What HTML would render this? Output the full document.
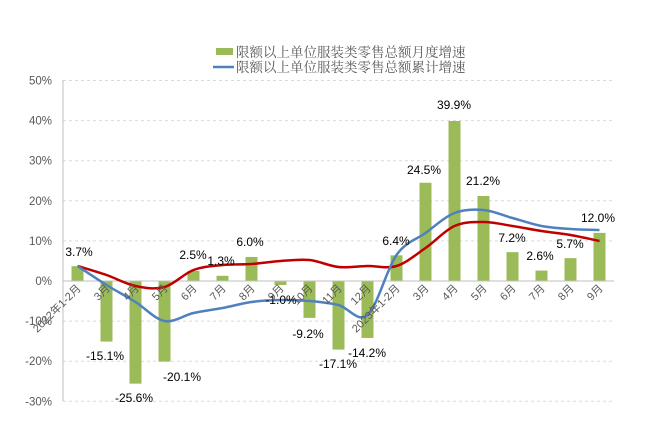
<!DOCTYPE html><html><head><meta charset="utf-8"><style>body{margin:0;background:#fff}svg{display:block;font-family:"Liberation Sans","Noto Sans CJK SC",sans-serif}</style></head><body>
<svg id="c" width="651" height="441" xmlns="http://www.w3.org/2000/svg"></svg>
<script>
const s=document.getElementById('c');let h='';
const y0=281,k=4.01,L=63,W=29;
const Y=v=>y0-v*k;const X=i=>L+14.5+W*i;
for(let t=-30;t<=50;t+=10){const y=Y(t);if(t!==0)h+=`<line x1="${L}" x2="614" y1="${y}" y2="${y}" stroke="#d9d9d9" stroke-dasharray="3,3"/>`;h+=`<text x="52" y="${y+4}" font-size="11.5" fill="#595959" text-anchor="end">${t}%</text>`;}
const m=[3.7,-15.1,-25.6,-20.1,2.5,1.3,6.0,-1.0,-9.2,-17.1,-14.2,6.4,24.5,39.9,21.2,7.2,2.6,5.7,12.0];
m.forEach((v,i)=>{const a=Y(Math.max(v,0)),b=Y(Math.min(v,0));h+=`<rect x="${X(i)-6}" y="${a}" width="12" height="${b-a}" fill="#9BBB59"/>`;});
h+=`<line x1="${L}" x2="${L}" y1="80" y2="401" stroke="#bfbfbf"/><line x1="${L}" x2="614" y1="${y0}" y2="${y0}" stroke="#bfbfbf"/>`;
function path(ys){const p=ys.map((y,i)=>[X(i),y]);let d=`M${p[0][0]},${p[0][1]}`;for(let i=0;i<p.length-1;i++){const p0=p[i-1]||p[i],p1=p[i],p2=p[i+1],p3=p[i+2]||p2;const t=6;d+=` C${p1[0]+(p2[0]-p0[0])/t},${p1[1]+(p2[1]-p0[1])/t} ${p2[0]-(p3[0]-p1[0])/t},${p2[1]-(p3[1]-p1[1])/t} ${p2[0]},${p2[1]}`;}return d;}
const red=[266,275,286,287,270,265,264,261,260,267,266,266,248,226,222,226,231,235,241];
const blue=[266,285,302,321,313,308,302,300,301,305,315,255,233,213,210,218,226,229,230];
h+=`<path d="${path(red)}" fill="none" stroke="#C00000" stroke-width="2.5"/>`;
h+=`<path d="${path(blue)}" fill="none" stroke="#4F81BD" stroke-width="2.5"/>`;
const lab=[[79,252,'3.7%'],[105,356,'-15.1%'],[134,398,'-25.6%'],[182,377,'-20.1%'],[193,255,'2.5%'],[221,261,'1.3%'],[250,242,'6.0%'],[281,300,'-1.0%'],[308,334,'-9.2%'],[338,364,'-17.1%'],[367,353,'-14.2%'],[396,241,'6.4%'],[424,170,'24.5%'],[454,105,'39.9%'],[483,181,'21.2%'],[512,238,'7.2%'],[540,256,'2.6%'],[570,244,'5.7%'],[598,218,'12.0%']];
lab.forEach(l=>h+=`<text x="${l[0]}" y="${l[1]+4}" font-size="12" fill="#000" text-anchor="middle">${l[2]}</text>`);
const c=['2022年1-2月','3月','4月','5月','6月','7月','8月','9月','10月','11月','12月','2023年1-2月','3月','4月','5月','6月','7月','8月','9月'];
c.forEach((t,i)=>{const x=X(i)+4,y=y0+8;h+=`<text transform="translate(${x},${y}) rotate(-45)" font-size="11" fill="#595959" text-anchor="end">${t}</text>`;});
const lf='font-family="Liberation Serif, Noto Serif CJK SC, serif"';
h+=`<rect x="216" y="48" width="17" height="7" fill="#9BBB59"/><text x="236" y="57" font-size="13.5" ${lf} fill="#595959">限额以上单位服装类零售总额月度增速</text>`;
h+=`<line x1="213" x2="234" y1="67" y2="67" stroke="#4F81BD" stroke-width="2.5"/><text x="236" y="72" font-size="13.5" ${lf} fill="#595959">限额以上单位服装类零售总额累计增速</text>`;
s.innerHTML=h;
</script></body></html>
